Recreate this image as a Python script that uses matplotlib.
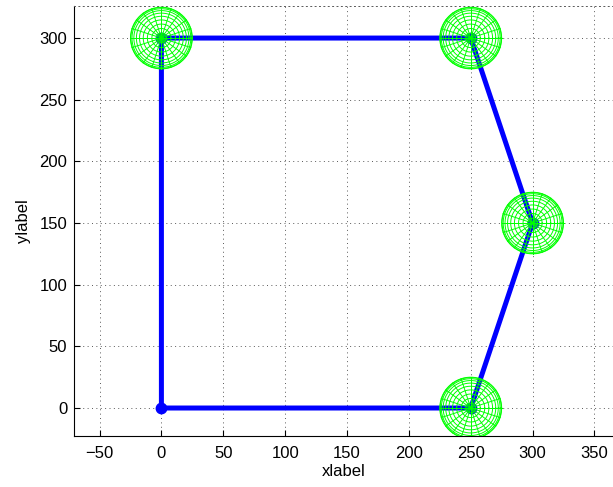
import numpy as np
import matplotlib
matplotlib.use('Agg')
from matplotlib import pyplot as plt

# path vertices (closed loop back to the origin)
path_x = [0, 0, 250, 300, 250, 0]
path_y = [0, 300, 300, 150, 0, 0]

# sphere centres and radius
sphere_x = [0, 250, 300, 250]
sphere_y = [300, 300, 150, 0]
sphere_r = 25

xticks = [-50, 0, 50, 100, 150, 200, 250, 300, 350]
yticks = [0, 50, 100, 150, 200, 250, 300]

plt.rcParams['font.family'] = ['Liberation Sans', 'DejaVu Sans']

fig = plt.figure(figsize=(6.13, 4.87), dpi=100)
ax = fig.add_axes([0.12, 0.1047, 0.88, 0.883])

ax.plot(path_x, path_y, '-', color='#0000ff', lw=3.6, zorder=3,
        solid_capstyle='round', solid_joinstyle='round')
ax.plot(path_x[:-1], path_y[:-1], 'o', color='#0000ff', ms=7.5, zorder=3)

# wireframe sphere seen from above: latitude rings + meridians
n = 20
lat = np.linspace(-np.pi / 2, np.pi / 2, n + 1)
lon = np.linspace(0, 2 * np.pi, n + 1)
t = np.linspace(0, 2 * np.pi, 200)
for cx, cy in zip(sphere_x, sphere_y):
    for la in lat[:n // 2 + 1]:
        r = sphere_r * np.cos(la)
        if r < 1e-6:
            continue
        ax.plot(cx + r * np.cos(t), cy + r * np.sin(t), color='#00ff00', lw=0.7, zorder=4)
    for lo in lon:
        ax.plot([cx, cx + sphere_r * np.cos(lo)], [cy, cy + sphere_r * np.sin(lo)],
                color='#00ff00', lw=0.7, zorder=4)

ax.set_xlim(-71, 365)
ax.set_ylim(-22.7, 326)
ax.set_xticks(xticks)
ax.set_yticks(yticks)
ax.tick_params(direction='in', length=4, labelsize=12, width=0.8, pad=4.5)
ax.tick_params(axis='x', pad=7)
ax.grid(True, linestyle=(0, (1, 3.5)), color='0.35', lw=0.7)
ax.set_axisbelow(True)

ax.spines['right'].set_visible(False)
ax.spines['top'].set_linestyle((0, (1, 3.5)))
ax.spines['top'].set_color('0.35')
ax.spines['top'].set_linewidth(0.7)

ax.set_xlabel('xlabel', fontsize=12, labelpad=2)
ax.set_ylabel('ylabel', fontsize=12, labelpad=6)

fig.savefig('out.png', dpi=100)
